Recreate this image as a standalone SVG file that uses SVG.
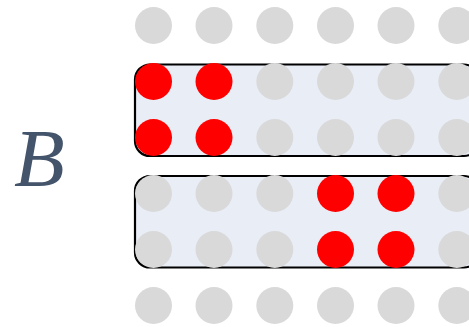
<svg xmlns="http://www.w3.org/2000/svg" width="469" height="327" viewBox="0 0 469 327">
<style>
.g{fill:#D9D9D9}
.r{fill:#FF0000}
.box{fill:#E9EDF6;stroke:#000;stroke-width:2.2}
.lbl{font-family:"Liberation Serif",serif;font-style:italic;font-size:83px;fill:#44546A}
</style>
<rect width="469" height="327" fill="#fff"/>
<g id="box1"><rect class="box" x="135" y="64.5" width="344" height="91.5" rx="15"/></g>
<g id="box2"><rect class="box" x="135" y="176" width="344" height="91.5" rx="15"/></g>
<g id="dots">
<g class="g">
<circle cx="153.5" cy="25.5" r="18.5"/><circle cx="214" cy="25.5" r="18.5"/><circle cx="274.8" cy="25.5" r="18.5"/><circle cx="335.5" cy="25.5" r="18.5"/><circle cx="396" cy="25.5" r="18.5"/><circle cx="456.8" cy="25.5" r="18.5"/>
<circle cx="274.8" cy="81.5" r="18.5"/><circle cx="335.5" cy="81.5" r="18.5"/><circle cx="396" cy="81.5" r="18.5"/><circle cx="456.8" cy="81.5" r="18.5"/>
<circle cx="274.8" cy="137.5" r="18.5"/><circle cx="335.5" cy="137.5" r="18.5"/><circle cx="396" cy="137.5" r="18.5"/><circle cx="456.8" cy="137.5" r="18.5"/>
<circle cx="153.5" cy="193.5" r="18.5"/><circle cx="214" cy="193.5" r="18.5"/><circle cx="274.8" cy="193.5" r="18.5"/><circle cx="456.8" cy="193.5" r="18.5"/>
<circle cx="153.5" cy="249.5" r="18.5"/><circle cx="214" cy="249.5" r="18.5"/><circle cx="274.8" cy="249.5" r="18.5"/><circle cx="456.8" cy="249.5" r="18.5"/>
<circle cx="153.5" cy="305.5" r="18.5"/><circle cx="214" cy="305.5" r="18.5"/><circle cx="274.8" cy="305.5" r="18.5"/><circle cx="335.5" cy="305.5" r="18.5"/><circle cx="396" cy="305.5" r="18.5"/><circle cx="456.8" cy="305.5" r="18.5"/>
</g>
<g class="r">
<circle cx="153.5" cy="81.5" r="18.5"/><circle cx="214" cy="81.5" r="18.5"/>
<circle cx="153.5" cy="137.5" r="18.5"/><circle cx="214" cy="137.5" r="18.5"/>
<circle cx="335.5" cy="193.5" r="18.5"/><circle cx="396" cy="193.5" r="18.5"/>
<circle cx="335.5" cy="249.5" r="18.5"/><circle cx="396" cy="249.5" r="18.5"/>
</g>
</g>
<g id="label"><text class="lbl" x="14" y="186">B</text></g>
</svg>
